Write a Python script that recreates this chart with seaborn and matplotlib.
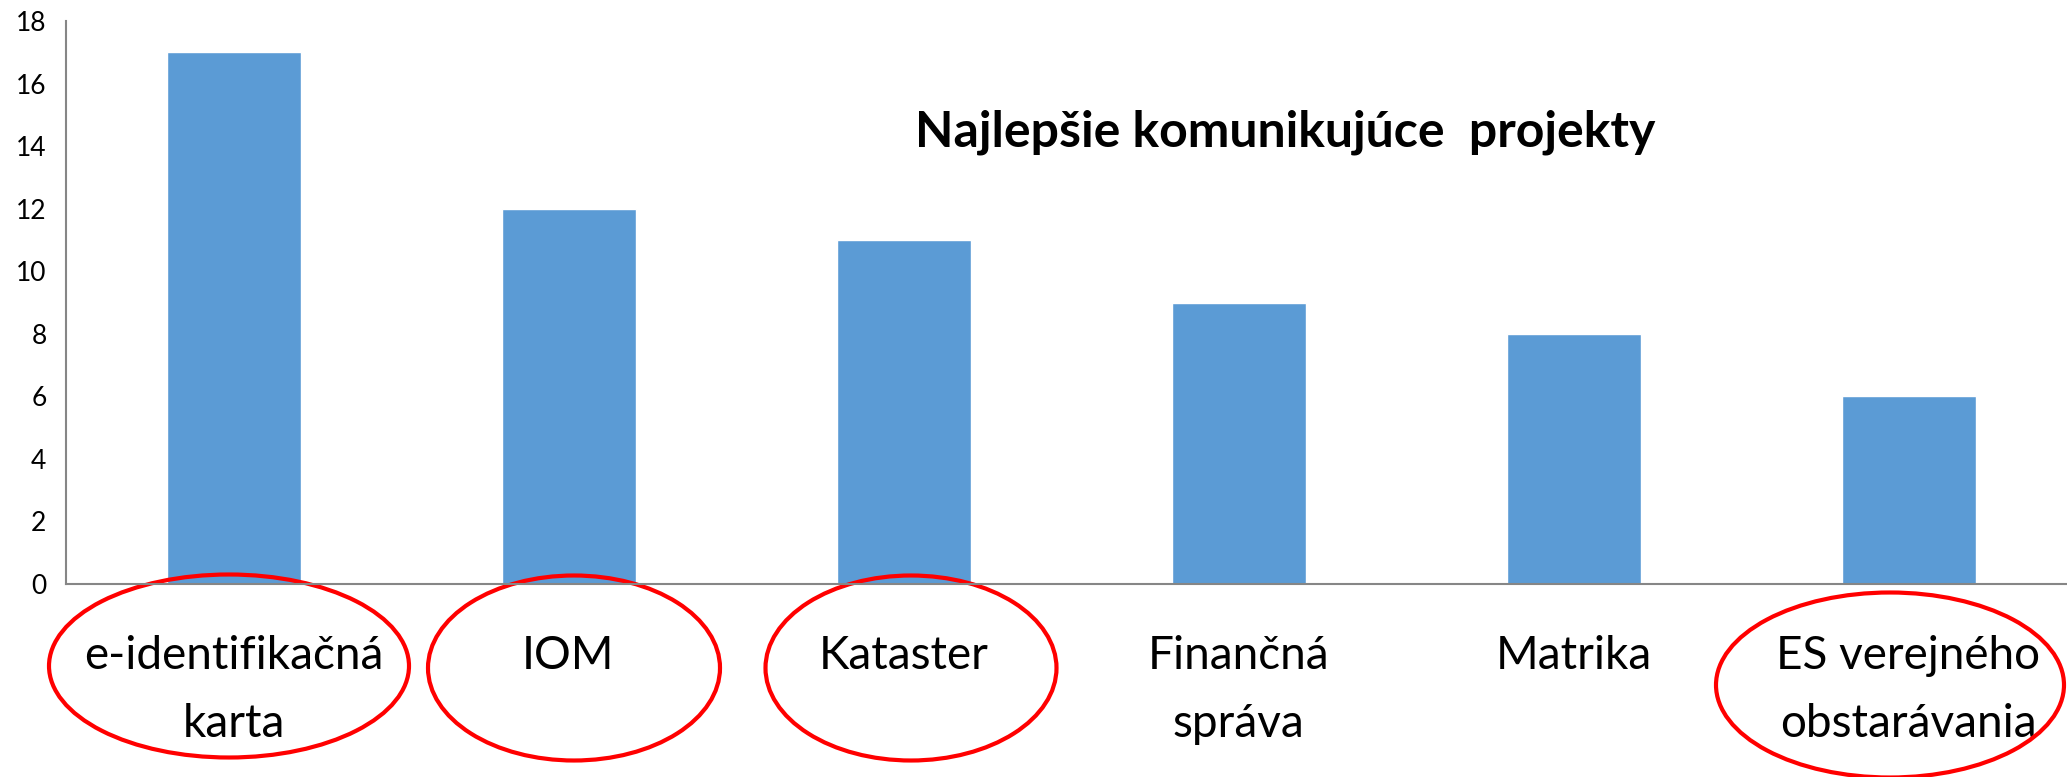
import matplotlib
matplotlib.use("Agg")
import matplotlib.pyplot as plt
import seaborn as sns
from matplotlib.patches import Ellipse
from matplotlib.ticker import FixedLocator

# Údaje z grafu
projekty = ["e-identifikačná\nkarta", "IOM", "Kataster", "Finančná\nspráva",
            "Matrika", "ES verejného\nobstarávania"]
hodnoty = [17, 12, 11, 9, 8, 6]
y_ticky = [0, 2, 4, 6, 8, 10, 12, 14, 16, 18]
# ktoré projekty sú zakrúžkované
zakruzkovane = [0, 1, 2, 5]

sns.set_style("white")
plt.rcParams["font.family"] = ["Lato", "DejaVu Sans"]

fig = plt.figure(figsize=(20.67, 7.77), dpi=100)
ax = fig.add_axes([66 / 2067, 1 - 584 / 777, 2010 / 2067, 563 / 777])

sns.barplot(x=projekty, y=hodnoty, color="#5B9BD5", width=0.4, saturation=1, ax=ax)

ax.set_xlim(-0.5, len(projekty) - 0.5)
ax.set_ylim(0, 18)
ax.set_yticks(y_ticky)
ax.tick_params(axis="y", labelsize=19, length=8, color="#868686", width=1.2, pad=6,
               labelcolor="black")
ax.tick_params(axis="x", which="major", length=0, labelsize=33, pad=37,
               labelcolor="black")
ax.xaxis.set_minor_locator(FixedLocator([i - 0.5 for i in range(len(projekty) + 1)]))
ax.tick_params(axis="x", which="minor", length=17, color="#868686", width=1.2)
for lab in ax.get_xticklabels():
    lab.set_linespacing(1.75)

for s in ["top", "right"]:
    ax.spines[s].set_visible(False)
for s in ["left", "bottom"]:
    ax.spines[s].set_color("#868686")
    ax.spines[s].set_linewidth(1.5)
ax.set_xlabel("")
ax.set_ylabel("")

# červené elipsy okolo vybraných popisov
px_x = 2010 / 6
px_y = 563 / 18
elipsy = {0: (229, 666, 360, 183), 1: (574, 668, 292, 185),
          2: (911, 668, 291, 185), 5: (1890, 685, 348, 185)}
for i in zakruzkovane:
    cx, cy, w, h = elipsy[i]
    e = Ellipse(((cx - 66) / px_x - 0.5, (584 - cy) / px_y), w / px_x, h / px_y,
                fill=False, edgecolor="red", linewidth=3, clip_on=False)
    ax.add_patch(e)

fig.text(1285 / 2067, 1 - 132 / 777, "Najlepšie komunikujúce  projekty",
         fontsize=36, fontweight="bold", ha="center", va="center", color="black")

fig.savefig("out.png", dpi=100)
